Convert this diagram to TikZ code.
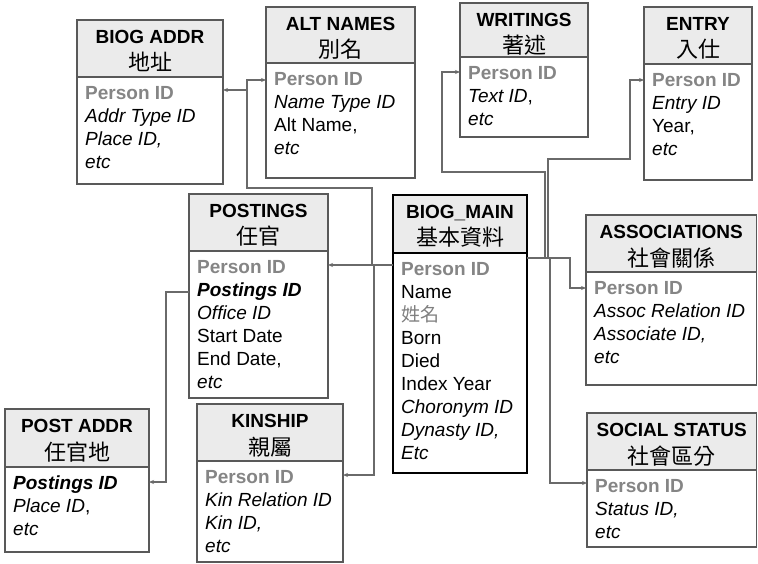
\documentclass[tikz,border=0pt]{standalone}
\usepackage{fontspec}
\setmainfont{Liberation Sans}
\newfontfamily\cjk{Noto Sans CJK TC}
\usetikzlibrary{arrows.meta}
\definecolor{hdrgray}{HTML}{EBEBEB}
\definecolor{bordergray}{HTML}{595959}
\definecolor{pidgray}{HTML}{858585}
\definecolor{linegray}{HTML}{6A6A6A}
\tikzset{
 tbl/.style={draw=bordergray, line width=1.1pt, inner sep=0pt, outer sep=0pt},
 hdrbox/.style={tbl, fill=hdrgray},
 bodybox/.style={tbl, fill=white},
 ttl/.style={font=\fontsize{19}{23}\selectfont\bfseries, anchor=base, inner sep=0pt},
 cjkttl/.style={font=\cjk\fontsize{22}{23}\selectfont, anchor=base, inner sep=0pt},
 rowtext/.style={font=\fontsize{19}{23}\selectfont, align=left, anchor=north west, inner sep=0pt},
 conn/.style={draw=linegray, line width=1.1pt},
 arr/.style={conn, -{Stealth[length=5pt,width=4pt]}},
}
\newcommand\pid{\textcolor{pidgray}{\textbf{Person ID}}}
% name, x1, x2, top, hdrbottom, bottom, title, cjk, rows
\newcommand\dbtable[9]{%
 \node[hdrbox, anchor=north west, minimum width={#3-#2}, minimum height={#5-#4}] (#1h) at (#2,#4) {};
 \node[bodybox, anchor=north west, minimum width={#3-#2}, minimum height={#6-#5}] (#1) at (#2,#5) {};
 \node[ttl] (#1t) at ([yshift=-23.5pt]#1h.north) {#7};
 \node[cjkttl] (#1c) at ([yshift=-51pt]#1h.north) {#8};
 \node[rowtext] (#1r) at ([xshift=8pt,yshift=-6.6pt]#1.north west) {\strut #9};
}
\begin{document}
\begin{tikzpicture}[x=1pt,y=-1pt]
\useasboundingbox[fill=white] (0,0) rectangle (758,564);

\dbtable{ba}{77}{223}{20}{77}{184}{BIOG ADDR}{地址}{\pid\\\textit{Addr Type ID}\\\textit{Place ID,}\\\textit{etc}}
\dbtable{alt}{266}{415}{7}{63}{178}{ALT NAMES}{別名}{\pid\\\textit{Name Type ID}\\Alt Name,\\\textit{etc}}
\dbtable{wr}{460}{588}{3}{57}{137}{WRITINGS}{著述}{\pid\\\textit{Text ID},\\\textit{etc}}
\dbtable{en}{644}{752}{7}{64}{180}{ENTRY}{入仕}{\pid\\\textit{Entry ID}\\Year,\\\textit{etc}}
\dbtable{po}{189}{328}{194}{251}{398}{POSTINGS}{任官}{\pid\\\textbf{\textit{Postings ID}}\\\textit{Office ID}\\Start Date\\End Date,\\\textit{etc}}
\dbtable{as}{586}{756.5}{215}{272}{385}{ASSOCIATIONS}{社會關係}{\pid\\\textit{Assoc Relation ID}\\\textit{Associate ID,}\\\textit{etc}}
\dbtable{pa}{5}{149}{409}{467}{552}{POST ADDR}{任官地}{\textbf{\textit{Postings ID}}\\\textit{Place ID}, \\\textit{etc}}
\dbtable{kin}{197}{343}{404}{461}{562}{KINSHIP}{親屬}{\pid\\\textit{Kin Relation ID}\\\textit{Kin ID,}\\\textit{etc}}
\dbtable{ss}{587}{756.5}{413}{470}{547}{SOCIAL STATUS}{社會區分}{\pid\\\textit{Status ID,}\\\textit{etc}}

% BIOG_MAIN (thick black)
\tikzset{tbl/.append style={draw=black, line width=2.8pt}}
\dbtable{bm}{393}{527}{195}{253}{473}{BIOG\_MAIN}{基本資料}{\pid\\Name\\{\cjk\fontsize{19}{23}\selectfont\color{gray}姓名}\\Born\\Died\\Index Year\\\textit{Choronym ID}\\\textit{Dynasty ID,}\\\textit{Etc}}

% connectors left side
\coordinate (bmL) at ([yshift=-12pt]bm.north west);
\draw[arr] (bmL) -- (bmL -| po.east);
\coordinate (j1) at (372,265);
\draw[arr] (j1) -- (372,188) -- (247,188) |- ([yshift=-17pt]alt.north west);
\coordinate (j2) at (247,90);
\draw[arr] (j2) -- (ba.east |- j2);
\coordinate (j3) at (374,265);
\draw[arr] (j3) -- (374,475) -- (kin.east |- 0,475);
\coordinate (poL) at ([yshift=-41pt]po.north west);
\draw[arr] (poL) -- (166,292) |- (pa.east |- 0,482);

% connectors right side
\coordinate (bmR) at ([yshift=-5pt]bm.north east);
\draw[arr] (bmR) -- (570,258) |- (as.west |- 0,288);
\draw[arr] (545,258) -- (545,172) -- (442,172) |- (wr.west |- 0,72);
\draw[arr] (548,258) -- (548,159) -- (630,159) |- (en.west |- 0,80);
\draw[arr] (550,258) |- (ss.west |- 0,483);
\end{tikzpicture}
\end{document}
